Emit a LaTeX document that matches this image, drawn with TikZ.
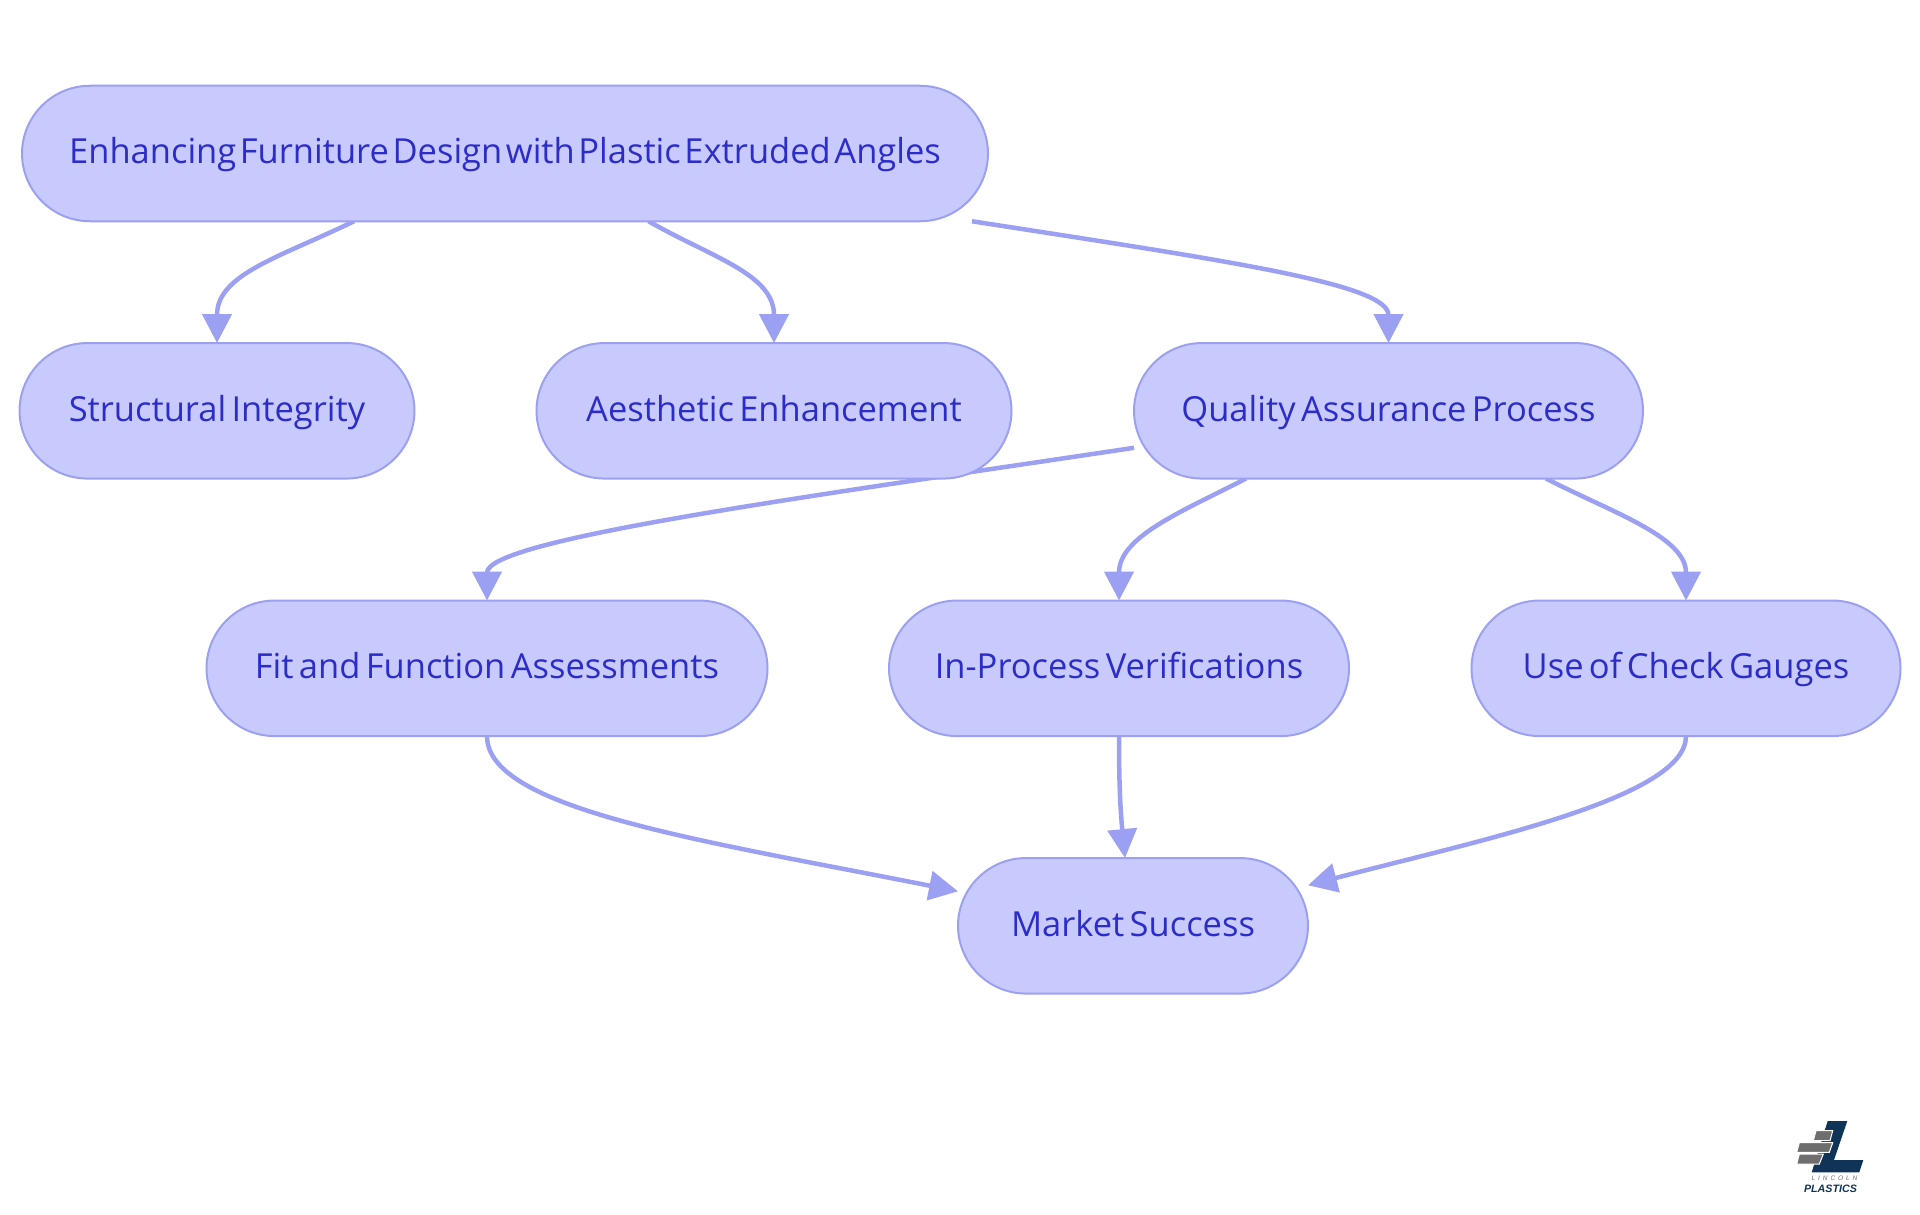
\documentclass[tikz,border=0pt]{standalone}
\usepackage{fontspec}
\setmainfont[WordSpace=0.6]{Open Sans}
\newfontfamily\rootfont[WordSpace=0.4]{Open Sans}
\newfontfamily\logofont{Liberation Sans}
\newfontfamily\logowide[LetterSpace=45]{Liberation Sans}
\usetikzlibrary{arrows.meta}
\usetikzlibrary{backgrounds}

\definecolor{boxfill}{RGB}{200,202,254}
\definecolor{boxline}{RGB}{156,160,243}
\definecolor{boxtext}{RGB}{44,44,200}
\definecolor{logonavy}{RGB}{15,52,88}
\definecolor{logogray}{RGB}{110,110,110}

\tikzset{
  stadium/.style={draw=boxline, fill=boxfill, line width=2pt, rounded corners=68pt, outer sep=0pt,
    minimum height=135.5pt, text=boxtext, text height=27.5pt, text depth=7pt, inner sep=0pt,
    font=\fontsize{34.5}{40}\selectfont},
  flow/.style={draw=boxline, line width=4.5pt, -{Triangle[length=29pt,width=29pt]}},
  brick/.style={draw=white, line width=1pt, fill=logogray}
}

\begin{document}
\begin{tikzpicture}[x=1pt, y=-1pt]
  \useasboundingbox (0, 0) rectangle (1920, 1215);

  \node[stadium, minimum width=966pt, font=\rootfont\fontsize{34.5}{40}\selectfont] (root) at (505, 153.5) {Enhancing Furniture Design with Plastic Extruded Angles};
  \node[stadium, minimum width=395pt] (structural) at (217, 410.8) {Structural Integrity};
  \node[stadium, minimum width=475pt] (aesthetic) at (774, 410.8) {Aesthetic Enhancement};
  \node[stadium, minimum width=509pt] (quality) at (1388.5, 410.8) {Quality Assurance Process};
  \node[stadium, minimum width=561pt] (fit) at (487, 668.3) {Fit and Function Assessments};
  \node[stadium, minimum width=460pt] (inProcess) at (1119, 668.3) {In-Process Verifications};
  \node[stadium, minimum width=429pt] (gauges) at (1686, 668.3) {Use of Check Gauges};
  \node[stadium, minimum width=350pt] (market) at (1133, 925.8) {Market Success};

  \begin{scope}[on background layer]
    \draw[flow] ([xshift=-151pt]root.south) .. controls +(-74, 36) and +(0, -69) .. (structural.north);
    \draw[flow] ([xshift=143.5pt]root.south) .. controls +(63, 36) and +(0, -69) .. (aesthetic.north);
    \draw[flow] ([xshift=467pt]root.south) .. controls +(258, 40) and +(0, -59) .. (quality.north);

    \draw[flow] ([yshift=-37pt]quality.west) .. controls +(-333, 50) and +(0, -61) .. (fit.north);
    \draw[flow] ([xshift=-142.5pt]quality.south) .. controls +(-64, 33) and +(0, -64) .. (inProcess.north);
    \draw[flow] ([xshift=157.5pt]quality.south) .. controls +(64, 33) and +(0, -64) .. (gauges.north);

    \draw[flow] (fit.south) .. controls +(0, 73) and +(-257, -51) .. ([yshift=34.5pt]market.west);
    \draw[flow] (inProcess.south) .. controls +(0, 43) and +(-5, -52) .. ([xshift=-8pt]market.north);
    \draw[flow] (gauges.south) .. controls +(0, 62) and +(171, -45) .. ([yshift=40.5pt]market.east);
  \end{scope}

  % logo
  \fill[logonavy] (1827.7, 1121) -- (1847.3, 1121) -- (1834, 1160) -- (1863.3, 1160) -- (1859.3, 1172.3) -- (1811.7, 1172.3) -- cycle;
  \draw[brick] (1816, 1130.7) -- (1832.7, 1130.7) -- (1830, 1140.7) -- (1813.3, 1140.7) -- cycle;
  \draw[brick] (1799.3, 1142.7) -- (1832.7, 1142.7) -- (1829.3, 1152.3) -- (1796.7, 1152.3) -- cycle;
  \draw[brick] (1799.3, 1154) -- (1823.3, 1154) -- (1819.3, 1164) -- (1796.7, 1164) -- cycle;
  \node[inner sep=0pt, text=logogray, font=\logowide\itshape\fontsize{6.5}{7}\selectfont] (lincoln) at (1834.5, 1178) {LINCOLN};
  \node[inner sep=0pt, text=logonavy, font=\logofont\bfseries\itshape\fontsize{10.7}{12}\selectfont] (plastics) at (1830.5, 1188.5) {PLASTICS};
\end{tikzpicture}
\end{document}
